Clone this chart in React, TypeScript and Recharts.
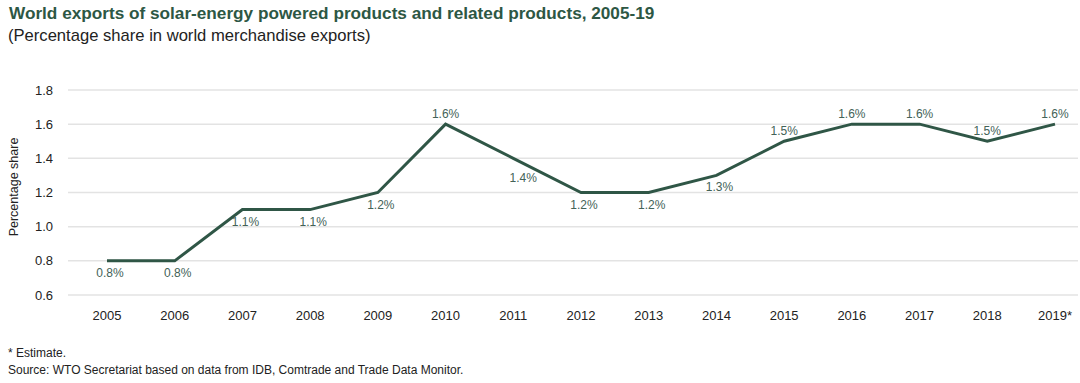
import React from "react";
import { LineChart, Line, XAxis, YAxis, CartesianGrid, LabelList } from "recharts";

const years = ["2005", "2006", "2007", "2008", "2009", "2010", "2011", "2012", "2013", "2014", "2015", "2016", "2017", "2018", "2019*"];
const shares = [0.8, 0.8, 1.1, 1.1, 1.2, 1.6, 1.4, 1.2, 1.2, 1.3, 1.5, 1.6, 1.6, 1.5, 1.6];
const yTicks = [0.6, 0.8, 1.0, 1.2, 1.4, 1.6, 1.8];
const labelsAbove = ["2010", "2015", "2016", "2017", "2018", "2019*"];

const data = years.map((y, i) => ({ year: y, share: shares[i] }));

const GREEN = "#2f5646";
const FONT = "'Liberation Sans', Arial, Helvetica, sans-serif";

const PointLabel = (props: any) => {
  const { x, y, value, index } = props;
  const yr = years[index];
  const above = labelsAbove.includes(yr);
  let dx = above ? 0 : 3;
  let dy = above ? -10 : 12;
  if (yr === "2011") { dx = 10; dy = 20; }
  return (
    <text x={x + dx} y={y + dy} textAnchor="middle" dominantBaseline="central" fontSize={12} fill="#436257" fontFamily={FONT}>
      {`${value.toFixed(1)}%`}
    </text>
  );
};

export default function App() {
  return (
    <div style={{ position: "absolute", left: 0, top: 0, width: 1080, height: 383, background: "#fff", fontFamily: FONT }}>
      <div style={{ position: "absolute", left: 9, top: 3, fontSize: 17.2, fontWeight: 700, color: "#2d5744", whiteSpace: "nowrap" }}>
        World exports of solar-energy powered products and related products, 2005-19
      </div>
      <div style={{ position: "absolute", left: 8, top: 26, fontSize: 16.6, color: "#222", whiteSpace: "nowrap" }}>
        (Percentage share in world merchandise exports)
      </div>
      <div style={{ position: "absolute", left: 0, top: 0 }}>
        <LineChart width={1080} height={340} data={data} margin={{ top: 90, right: 2, left: 0, bottom: 0 }}>
          <CartesianGrid vertical={false} stroke="#e3e3e3" strokeWidth={1.5} />
          <XAxis
            dataKey="year"
            scale="point"
            padding={{ left: 39, right: 23 }}
            axisLine={false}
            tickLine={false}
            tickSize={0}
            tickMargin={16}
            height={45}
            interval={0}
            tick={{ fontSize: 13, fill: "#222", fontFamily: FONT }}
          />
          <YAxis
            domain={[0.6, 1.8]}
            ticks={yTicks}
            tickFormatter={(v: number) => v.toFixed(1)}
            axisLine={false}
            tickLine={false}
            tickSize={0}
            tickMargin={15}
            width={68}
            tick={{ fontSize: 13, fill: "#222", fontFamily: FONT }}
            label={{
              content: () => (
                <text x={14} y={187} transform="rotate(-90 14 187)" textAnchor="middle" dominantBaseline="central" fontSize={12.5} fill="#222" fontFamily={FONT}>
                  Percentage share
                </text>
              ),
            }}
          />
          <Line type="linear" dataKey="share" stroke={GREEN} strokeWidth={3} dot={false} isAnimationActive={false}>
            <LabelList dataKey="share" content={PointLabel} />
          </Line>
        </LineChart>
      </div>
      <div style={{ position: "absolute", left: 8, top: 345, fontSize: 12, color: "#222", lineHeight: "17px", whiteSpace: "nowrap" }}>
        <div>* Estimate.</div>
        <div>Source: WTO Secretariat based on data from IDB, Comtrade and Trade Data Monitor.</div>
      </div>
    </div>
  );
}
